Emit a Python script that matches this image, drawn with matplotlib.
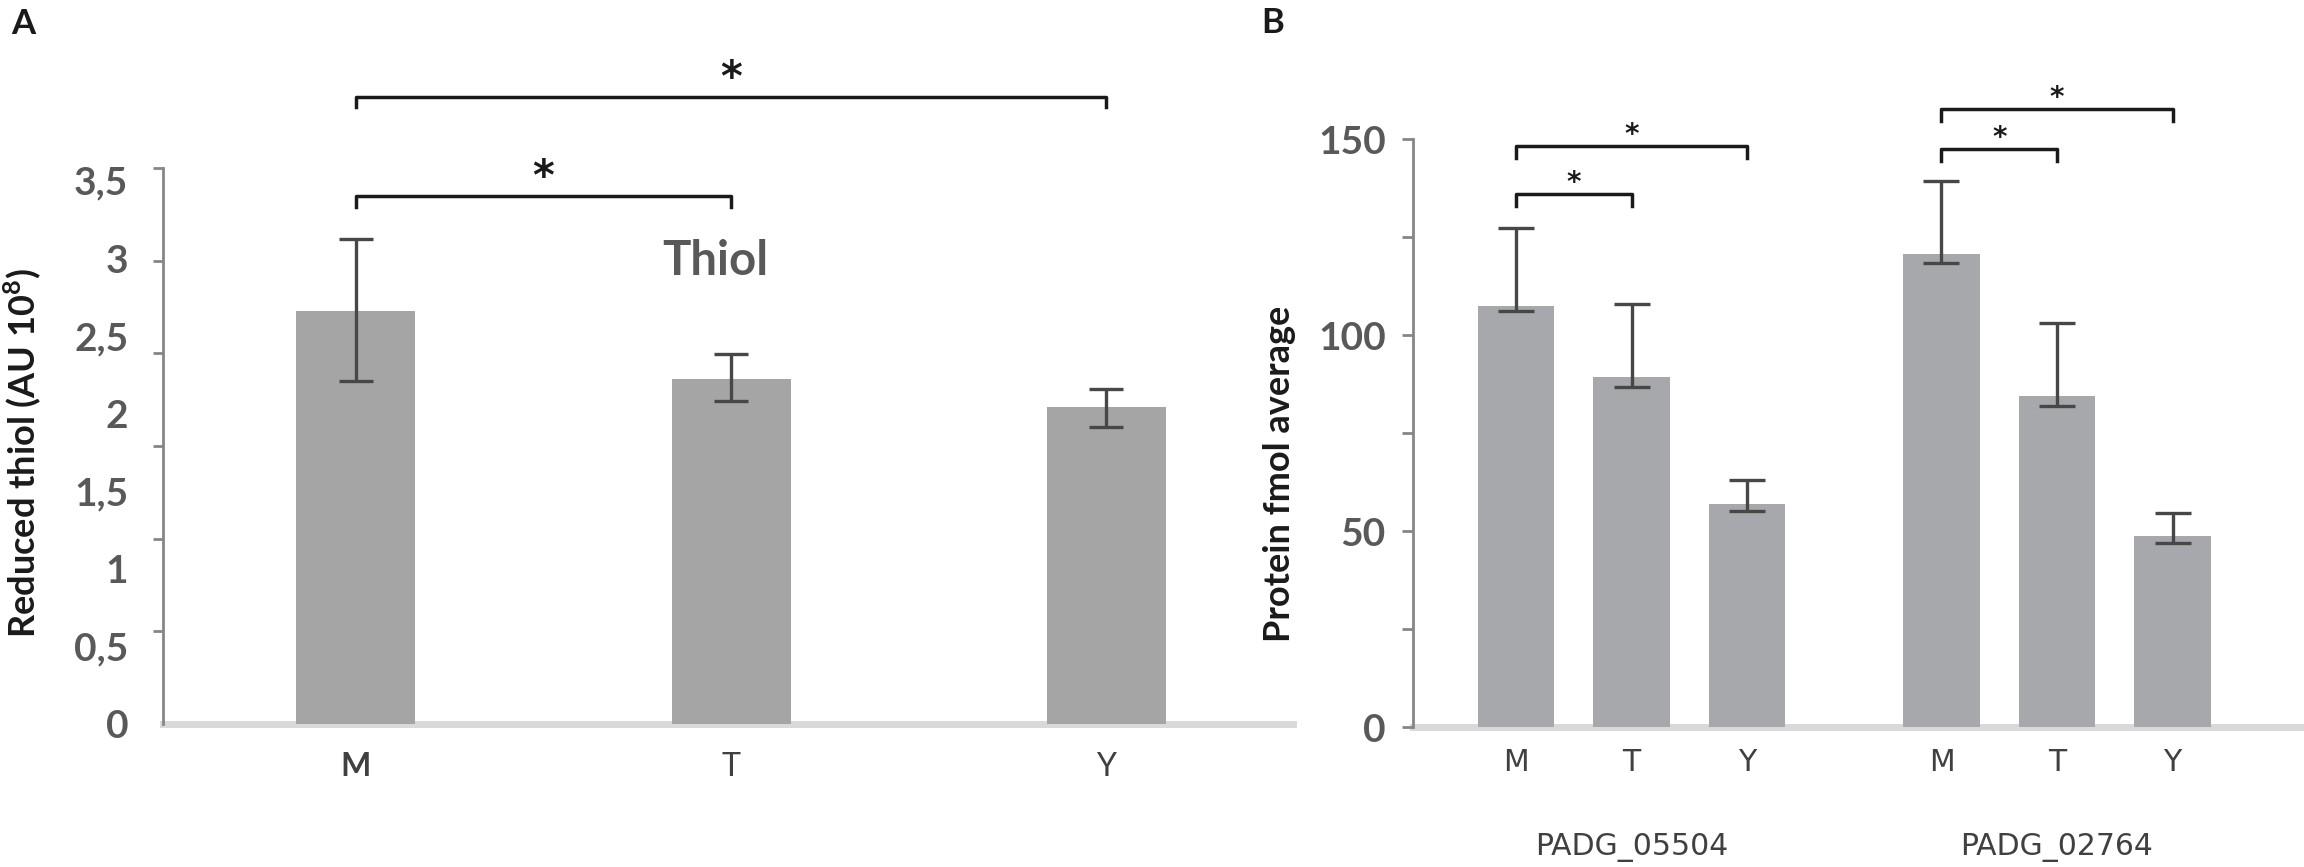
import matplotlib
matplotlib.use("Agg")
import matplotlib.pyplot as plt
import numpy as np

# panel A: reduced thiol
thiol_groups = ["M", "T", "Y"]
thiol_mean = [2.66, 2.22, 2.04]
thiol_err_low = [0.45, 0.14, 0.13]
thiol_err_high = [0.46, 0.16, 0.12]
thiol_ticks = [0, 0.5, 1, 1.5, 2, 2.5, 3, 3.5]
thiol_tick_labels = ["0", "0,5", "1", "1,5", "2", "2,5", "3", "3,5"]
# significance brackets: (bar i, bar j, height)
thiol_sig = [(0, 1, 3.40), (0, 2, 4.04)]

# panel B: protein fmol average
proteins = ["PADG_05504", "PADG_02764"]
strains = ["M", "T", "Y"]
fmol_mean = [[107.4, 89.3, 56.8], [120.6, 84.4, 48.7]]
fmol_err_low = [[1.3, 2.6, 1.8], [2.2, 2.4, 1.8]]
fmol_err_high = [[19.9, 18.6, 6.2], [18.8, 18.7, 5.8]]
fmol_ticks = [0, 25, 50, 75, 100, 125, 150]
# (protein, bar i, bar j, height)
fmol_sig = [(0, 0, 1, 136.0), (0, 0, 2, 148.2), (1, 0, 1, 147.4), (1, 0, 2, 157.6)]

plt.rcParams['font.family'] = ['Lato', 'DejaVu Sans']
plt.rcParams['mathtext.fontset'] = 'custom'
plt.rcParams['mathtext.rm'] = 'Lato:bold'
plt.rcParams['mathtext.bf'] = 'Lato:bold'

AX_GREY = '#868686'
LABEL_GREY = '#595959'
TEXT_DARK = '#404040'
ERR = '#474747'
INK = '#1a1a1a'

fig = plt.figure(figsize=(23.04, 8.67), dpi=100)
W, H = 2304, 867
axA = fig.add_axes([163 / W, (H - 724) / H, (1293 - 163) / W, (724 - 168) / H])
axB = fig.add_axes([1413 / W, (H - 727) / H, (2300 - 1413) / W, (727 - 139) / H])


def style_axes(ax):
    for s in ['top', 'right', 'bottom']:
        ax.spines[s].set_visible(False)
    ax.spines['left'].set_color(AX_GREY)
    ax.spines['left'].set_linewidth(2)
    ax.axhline(0, color='#d9d9d9', lw=5, zorder=1, clip_on=False)


def bracket(ax, x0, x1, h, drop, star_size, star_off):
    ax.plot([x0, x0, x1, x1], [h - drop, h, h, h - drop], color=INK, lw=2.5,
            clip_on=False, zorder=4)
    ax.annotate('*', xy=((x0 + x1) / 2, h), xytext=(0, star_off),
                textcoords='offset points', ha='center', va='baseline',
                fontsize=star_size, fontweight='bold', color=INK,
                family='DejaVu Sans', annotation_clip=False)


# ---- panel A ----
x = np.arange(len(thiol_groups))
style_axes(axA)
axA.bar(x, thiol_mean, width=0.317, color='#a5a5a5', zorder=2)
axA.errorbar(x, thiol_mean, yerr=[thiol_err_low, thiol_err_high], fmt='none',
             ecolor=ERR, elinewidth=2.4, capsize=12, capthick=2.4, zorder=3)
axA.set_xlim(-0.513, 2.497)
axA.set_ylim(0, 3.58)
axA.set_yticks(thiol_ticks, thiol_tick_labels)
axA.set_yticks(np.linspace(0, 3.58, 7), minor=True)
axA.tick_params(axis='y', which='major', length=0, pad=25, labelsize=28,
                labelcolor=LABEL_GREY)
axA.tick_params(axis='y', which='minor', length=7.5, width=2, color=AX_GREY)
for lbl in axA.get_yticklabels():
    lbl.set_fontweight('bold')
axA.set_xticks(x, thiol_groups)
axA.tick_params(axis='x', length=0, pad=20, labelsize=23, labelcolor=TEXT_DARK)
axA.get_xticklabels()[0].set_fontweight('bold')
axA.set_ylabel('Reduced thiol (AU 10$^{8}$)', fontsize=26, fontweight='bold',
               color=INK, va='center')
axA.yaxis.set_label_coords((22 - 163) / 1130, (724 - 453) / 556)
axA.text(0.957, 2.98, 'Thiol', fontsize=34, fontweight='bold', color=LABEL_GREY,
         ha='center', va='center')
for i, j, h in thiol_sig:
    bracket(axA, x[i], x[j], h, 0.07, 30, 4)

# ---- panel B ----
offsets = np.array([-0.2715, 0, 0.2715])
style_axes(axB)
xb, xb_labels = [], []
for g in range(len(proteins)):
    xs = g + offsets
    axB.bar(xs, fmol_mean[g], width=0.18, color='#a7a8ab', zorder=2)
    axB.errorbar(xs, fmol_mean[g], yerr=[fmol_err_low[g], fmol_err_high[g]],
                 fmt='none', ecolor=ERR, elinewidth=2.4, capsize=13,
                 capthick=2.4, zorder=3)
    xb.extend(xs)
    xb_labels.extend(strains)
    axB.text(g, (727 - 847) / 588, proteins[g], transform=axB.get_xaxis_transform(),
             ha='center', va='center', fontsize=21.5, family='DejaVu Sans',
             color=TEXT_DARK)
axB.set_xlim(-0.5135, 1.571)
axB.set_ylim(0, 150)
axB.set_xticks(xb, xb_labels)
axB.tick_params(axis='x', length=0, pad=15, labelsize=21.5, labelcolor=TEXT_DARK)
for lbl in axB.get_xticklabels():
    lbl.set_fontfamily('DejaVu Sans')
axB.set_yticks(fmol_ticks, [str(v) if v % 50 == 0 else '' for v in fmol_ticks])
axB.tick_params(axis='y', length=8, width=2, color=AX_GREY, pad=11.5,
                labelsize=28, labelcolor=LABEL_GREY)
for lbl in axB.get_yticklabels():
    lbl.set_fontweight('bold')
axB.set_ylabel('Protein fmol average', fontsize=26, fontweight='bold',
               color=INK, va='center')
axB.yaxis.set_label_coords((1280 - 1413) / 887, (727 - 474) / 588)
for g, i, j, h in fmol_sig:
    bracket(axB, g + offsets[i], g + offsets[j], h, 3.0, 20, 2)

fig.text(23 / W, 1 - 24 / H, 'A', fontsize=25, fontweight='bold', color=INK,
         ha='center', va='center')
fig.text(1273 / W, 1 - 23 / H, 'B', fontsize=25, fontweight='bold', color=INK,
         ha='center', va='center')

fig.savefig('out.png', dpi=100)
